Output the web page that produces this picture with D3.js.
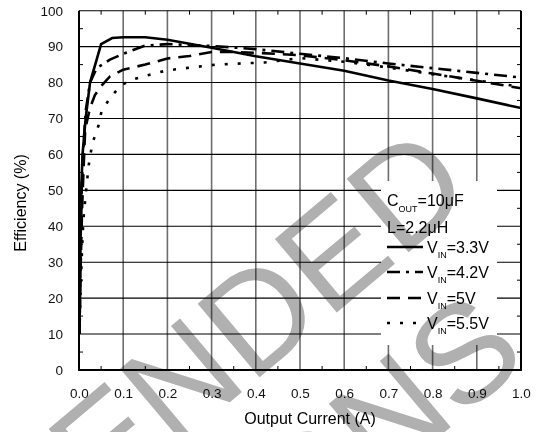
<!DOCTYPE html>
<html>
<head>
<meta charset="utf-8">
<script src="https://cdn.jsdelivr.net/npm/d3@7"></script>
<style>
  body { margin: 0; background: #fff; }
  svg { display: block; font-family: "Liberation Sans", Arial, sans-serif; }
</style>
</head>
<body>
<svg id="chart" width="538" height="432"></svg>
<script>
// efficiency curves: [output current (A), efficiency (%)]
const vin33 = [[0.001,10],[0.003,30],[0.005,50],[0.008,60],[0.015,70],[0.025,80],[0.05,90.7],[0.075,92.4],[0.1,92.6],[0.15,92.6],[0.2,91.9],[0.3,89.7],[0.4,87.3],[0.5,85.3],[0.6,83.3],[0.7,80.6],[0.8,78.2],[0.9,75.6],[1.0,72.9]];
const vin42 = [[0.001,10],[0.003,30],[0.006,50],[0.01,62],[0.015,72],[0.025,80],[0.04,84],[0.07,86.4],[0.1,88],[0.15,90.3],[0.2,90.7],[0.3,90.2],[0.4,89.3],[0.5,88],[0.6,86.8],[0.7,85.3],[0.8,84],[0.9,82.7],[1.0,81.4]];
const vin50 = [[0.001,10],[0.004,30],[0.007,45],[0.01,55],[0.014,67],[0.025,73],[0.036,76.5],[0.05,79],[0.07,81.7],[0.1,83.6],[0.15,85],[0.2,86.7],[0.25,87.4],[0.3,88.5],[0.35,88.5],[0.4,88.3],[0.5,87.6],[0.6,86.2],[0.7,84.5],[0.8,82.5],[0.9,80.5],[1.0,78.4]];
const vin55 = [[0.001,10],[0.003,20],[0.007,34],[0.01,42],[0.016,50],[0.022,57],[0.03,63],[0.044,68],[0.051,72],[0.07,75.7],[0.096,79.4],[0.126,81],[0.16,82.2],[0.2,83.4],[0.31,85],[0.42,85.6],[0.5,86.8],[0.6,85.8],[0.7,84.2],[0.8,82.3],[0.9,80.6],[1.0,78.8]];

const xTicks = [0, 0.1, 0.2, 0.3, 0.4, 0.5, 0.6, 0.7, 0.8, 0.9, 1.0];
const yTicks = [0, 10, 20, 30, 40, 50, 60, 70, 80, 90, 100];
const vinLabels = ['=3.3V', '=4.2V', '=5V', '=5.5V'];
const watermark = ['NOT RECOMMENDED', 'FOR NEW DESIGNS'];

const series = [
  { data: vin33, dash: null },
  { data: vin42, dash: '13,6,3,6' },
  { data: vin50, dash: '13,8' },
  { data: vin55, dash: '3,10' },
];

const svg = d3.select('#chart');
const x = d3.scaleLinear().domain([0, 1]).range([79, 521]);
const y = d3.scaleLinear().domain([0, 100]).range([370, 10.7]);

// grid
svg.append('g').selectAll('line').data(xTicks.slice(1, -1)).join('line')
  .attr('x1', (d) => x(d)).attr('x2', (d) => x(d))
  .attr('y1', y(100)).attr('y2', y(0))
  .attr('stroke', '#6e6e6e').attr('stroke-width', 1.6);
svg.append('g').selectAll('line').data(yTicks.slice(1)).join('line')
  .attr('x1', x(0)).attr('x2', x(1))
  .attr('y1', (d) => y(d)).attr('y2', (d) => y(d))
  .attr('stroke', '#000').attr('stroke-width', 1.1);

// small inward ticks on all four sides
const minorX = d3.range(0.05, 1, 0.1);
const minorY = d3.range(5, 100, 10);
const minor = svg.append('g').attr('stroke', '#000').attr('stroke-width', 1);
minor.selectAll('.mt').data(minorX).join('line').attr('class', 'mt')
  .attr('x1', (d) => x(d)).attr('x2', (d) => x(d)).attr('y1', y(100)).attr('y2', y(100) + 4);
minor.selectAll('.mb').data(minorX).join('line').attr('class', 'mb')
  .attr('x1', (d) => x(d)).attr('x2', (d) => x(d)).attr('y1', y(0)).attr('y2', y(0) - 4);
minor.selectAll('.ml').data(minorY).join('line').attr('class', 'ml')
  .attr('x1', x(0)).attr('x2', x(0) + 4).attr('y1', (d) => y(d)).attr('y2', (d) => y(d));
minor.selectAll('.mr').data(minorY).join('line').attr('class', 'mr')
  .attr('x1', x(1)).attr('x2', x(1) - 4).attr('y1', (d) => y(d)).attr('y2', (d) => y(d));

// legend background hides the grid behind it
svg.append('rect').attr('x', 381).attr('y', 181).attr('width', 116).attr('height', 164).attr('fill', '#fff');

// curves
const line = d3.line().x((d) => x(d[0])).y((d) => y(d[1]));
svg.append('g').selectAll('path').data(series).join('path')
  .attr('d', (d) => line(d.data))
  .attr('fill', 'none').attr('stroke', '#000').attr('stroke-width', 2.6)
  .attr('stroke-dasharray', (d) => d.dash);

// axes
const xAxis = svg.append('g').attr('transform', `translate(0,${y(0)})`)
  .call(d3.axisBottom(x).tickValues(xTicks).tickFormat(d3.format('.1f')).tickSize(0).tickPadding(18));
const yAxis = svg.append('g').attr('transform', `translate(${x(0)},0)`)
  .call(d3.axisLeft(y).tickValues(yTicks).tickSize(0).tickPadding(16));
[xAxis, yAxis].forEach((g) => {
  g.select('.domain').remove();
  g.selectAll('text').attr('font-size', 13.5).attr('font-family', '"Liberation Sans", Arial, sans-serif').attr('fill', '#111');
});
const frame = svg.append('g').attr('stroke', '#000').attr('stroke-width', 2).attr('fill', 'none');
frame.append('path').attr('d', `M${x(0)},${y(100)}V${y(0)}H${x(1)}V${y(100)}`);

// axis titles
svg.append('text').attr('x', 310).attr('y', 424).attr('text-anchor', 'middle')
  .attr('font-size', 16).text('Output Current (A)');
svg.append('text').attr('transform', 'translate(26,203) rotate(-90)').attr('text-anchor', 'middle')
  .attr('font-size', 16).text('Efficiency (%)');

// legend
const legend = svg.append('g').attr('font-size', 16).attr('fill', '#000');
const cout = legend.append('text').attr('x', 387).attr('y', 206);
cout.append('tspan').text('C');
cout.append('tspan').attr('font-size', 9).attr('dy', 6).text('OUT');
cout.append('tspan').attr('dy', -6).text('=10\u03bcF');
legend.append('text').attr('x', 387).attr('y', 233).text('L=2.2\u03bcH');
const rows = [247, 272, 298, 323];
series.forEach((s, i) => {
  legend.append('line').attr('x1', 387).attr('x2', 423).attr('y1', rows[i]).attr('y2', rows[i])
    .attr('stroke', '#000').attr('stroke-width', 2.6).attr('stroke-dasharray', s.dash);
  const t = legend.append('text').attr('x', 427).attr('y', rows[i] + 6);
  t.append('tspan').text('V');
  t.append('tspan').attr('font-size', 9).attr('dy', 5).text('IN');
  t.append('tspan').attr('dy', -5).text(vinLabels[i]);
});

// grey watermark across the page, two centred lines
const wm = svg.append('g').attr('transform', 'translate(-82,664) rotate(-40)')
  .attr('font-size', 140).attr('fill', '#b0b0b0').attr('text-anchor', 'middle')
  .style('mix-blend-mode', 'multiply');
watermark.forEach((t, i) => {
  wm.append('text').attr('x', 0).attr('y', i * 161).text(t);
});
</script>
</body>
</html>
